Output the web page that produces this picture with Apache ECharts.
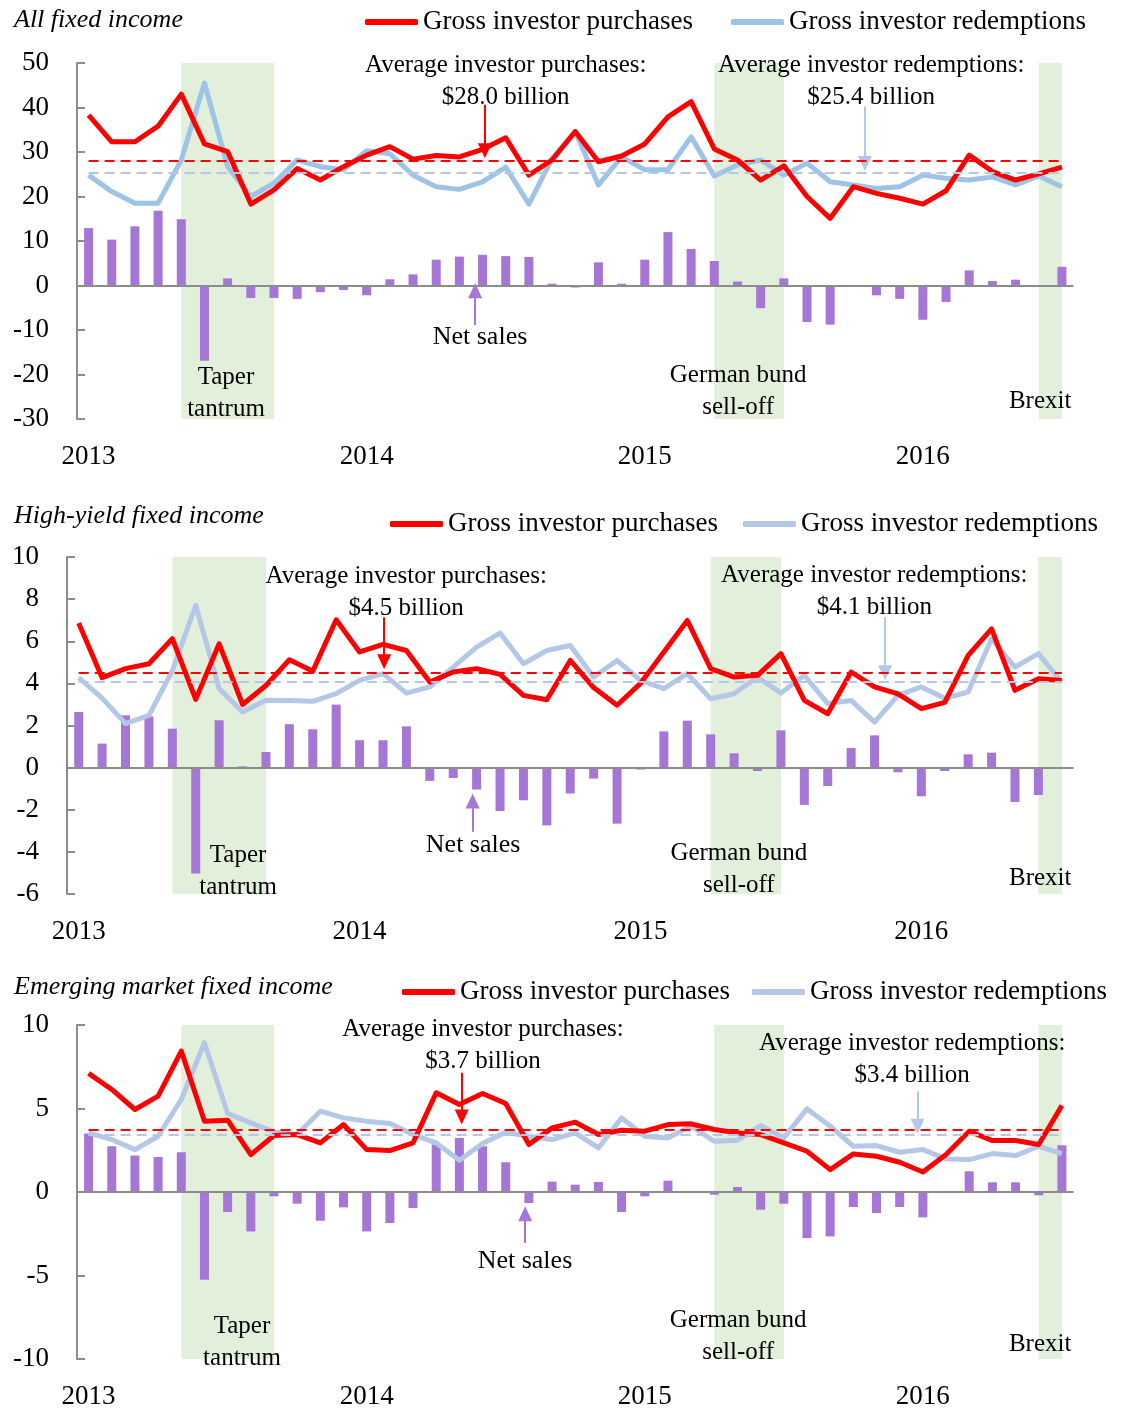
<!DOCTYPE html>
<html>
<head>
<meta charset="utf-8">
<script src="https://cdn.jsdelivr.net/npm/echarts@6/dist/echarts.min.js"></script>
<style>
html, body { margin: 0; padding: 0; background: #fff; }
#flows { width: 1123px; height: 1412px; }
</style>
</head>
<body>
<div id="flows"></div>
<script>
// monthly, Jan 2013 .. Jul 2016 (43 months), $ billion
var years = ['2013', '2014', '2015', '2016']
var panelTitles = ['All fixed income', 'High-yield fixed income', 'Emerging market fixed income']

var allBuy = [38.3, 32.3, 32.3, 35.8, 43.0, 31.8, 30.1, 18.3, 21.5, 26.3,
  23.7, 26.7, 29.3, 31.2, 28.4, 29.2, 28.9, 30.6, 33.2, 24.8,
  28.2, 34.6, 27.8, 29.1, 31.8, 37.9, 41.3, 30.7, 28.2, 23.7,
  26.9, 20.0, 15.1, 22.2, 20.7, 19.6, 18.3, 21.3, 29.3, 25.6,
  23.7, 25.1, 26.6]
var allSell = [24.8, 21.1, 18.5, 18.5, 28.2, 45.5, 26.7, 20.0, 23.0, 28.2,
  26.7, 26.0, 30.3, 29.6, 24.8, 22.2, 21.6, 23.3, 26.6, 18.3,
  28.5, 34.6, 22.6, 28.9, 26.0, 26.0, 33.4, 24.6, 27.1, 28.2,
  24.8, 27.5, 23.3, 22.6, 21.8, 22.2, 24.8, 24.1, 23.7, 24.4,
  22.6, 24.6, 22.2]
var allNet = [12.9, 10.3, 13.3, 16.8, 14.9, -16.9, 1.6, -2.8, -2.8, -3.0,
  -1.5, -1.0, -2.2, 1.4, 2.5, 5.8, 6.5, 6.9, 6.6, 6.4,
  0.4, -0.45, 5.2, 0.4, 5.8, 12.0, 8.2, 5.5, 0.9, -5.1,
  1.6, -8.2, -8.8, -0.3, -2.2, -3.0, -7.7, -3.7, 3.4, 1.0,
  1.3, 0.1, 4.2]

var hyBuy = [6.86, 4.27, 4.70, 4.93, 6.12, 3.24, 5.88, 3.0, 3.9, 5.12,
  4.58, 7.02, 5.49, 5.85, 5.56, 4.06, 4.54, 4.70, 4.43, 3.43,
  3.22, 5.09, 3.8, 2.96, 4.0, 5.49, 6.99, 4.70, 4.30, 4.38,
  5.41, 3.19, 2.56, 4.54, 3.83, 3.5, 2.8, 3.1, 5.33, 6.59,
  3.67, 4.22, 4.14]
var hySell = [4.27, 3.3, 2.09, 2.48, 4.6, 7.7, 3.75, 2.64, 3.2, 3.19,
  3.15, 3.51, 4.14, 4.46, 3.54, 3.83, 4.77, 5.72, 6.39, 4.93,
  5.56, 5.80, 4.30, 5.09, 4.14, 3.75, 4.46, 3.27, 3.51, 4.30,
  3.54, 4.38, 3.04, 3.19, 2.16, 3.43, 3.83, 3.29, 3.59, 6.12,
  4.77, 5.41, 4.06]
var hyNet = [2.64, 1.14, 2.48, 2.43, 1.85, -5.03, 2.25, 0.06, 0.74, 2.06,
  1.82, 2.99, 1.30, 1.30, 1.96, -0.63, -0.49, -1.04, -2.06, -1.55,
  -2.74, -1.23, -0.52, -2.66, -0.09, 1.72, 2.23, 1.58, 0.68, -0.16,
  1.77, -1.77, -0.87, 0.93, 1.53, -0.22, -1.36, -0.16, 0.63, 0.71,
  -1.63, -1.30, 0]

var emBuy = [7.10, 6.14, 4.94, 5.74, 8.44, 4.24, 4.30, 2.24, 3.38, 3.44,
  2.94, 4.04, 2.54, 2.48, 2.94, 5.94, 5.24, 5.90, 5.30, 2.84,
  3.84, 4.18, 3.44, 3.70, 3.64, 4.04, 4.08, 3.74, 3.54, 3.44,
  2.94, 2.44, 1.34, 2.28, 2.14, 1.78, 1.20, 2.24, 3.64, 3.08,
  3.08, 2.84, 5.18]
var emSell = [3.54, 3.14, 2.54, 3.34, 5.54, 8.94, 4.70, 4.14, 3.60, 3.44,
  4.84, 4.44, 4.24, 4.10, 3.44, 2.94, 1.90, 2.90, 3.58, 3.34,
  3.14, 3.54, 2.64, 4.44, 3.34, 3.24, 3.94, 3.04, 3.10, 3.98,
  3.24, 4.98, 3.94, 2.74, 2.78, 2.38, 2.54, 1.98, 1.94, 2.30,
  2.18, 2.74, 2.30]
var emNet = [3.50, 2.74, 2.18, 2.10, 2.38, -5.26, -1.2, -2.36, -0.26, -0.7,
  -1.72, -0.92, -2.36, -1.86, -0.96, 2.84, 3.24, 2.74, 1.78, -0.66,
  0.62, 0.44, 0.6, -1.2, -0.26, 0.68, 0.05, -0.16, 0.3, -1.06,
  -0.7, -2.76, -2.66, -0.9, -1.26, -0.9, -1.52, 0.02, 1.24, 0.58,
  0.58, -0.2, 2.8]

var avgBuy = [28.0, 4.5, 3.7]
var avgSell = [25.4, 4.1, 3.4]

// event windows, as month index (May-Sep 2013, Apr-Jul 2015, Jun-Jul 2016)
var eventBands = [[4, 8], [27, 30], [41, 42]]
var eventNames = ['Taper\ntantrum', 'German bund\nsell-off', 'Brexit']

var serif = "'Liberation Serif', 'DejaVu Serif', serif"
var red = '#ff0000'
var purple = '#a676d6'
var axisGrey = '#8c8c8c'

// layout of each panel; note/arrow positions are in data units [month index, value]
var panels = [
  {
    buy: allBuy, sell: allSell, net: allNet, sellColor: '#9dc3e6', sellDash: '#b4c7e7',
    min: -30, max: 50, step: 10, left: 77, top: 63, height: 356,
    titleTop: 7, legendLeft: 365, legendTop: 7, legendGap: 38,
    buyNote: [18.0, 45.96], sellNote: [33.77, 45.84], netNote: [16.89, -11.57],
    buyArrow: [17.1, 40.6, 30.3], sellArrow: [33.5, 40.2, 27.4], netArrow: [16.68, -8.9, -1.2],
    eventAt: [[5.93, -24.27], [28.03, -23.82], [41.06, -25.96]]
  },
  {
    buy: hyBuy, sell: hySell, net: hyNet, sellColor: '#b4c7e7', sellDash: '#b4c7e7',
    min: -6, max: 10, step: 2, left: 67, top: 557, height: 337,
    titleTop: 503, legendLeft: 390, legendTop: 509, legendGap: 25,
    buyNote: [13.99, 8.32], sellNote: [33.99, 8.36], netNote: [16.85, -3.69],
    buyArrow: [13.05, 7.14, 5.03], sellArrow: [34.45, 7.14, 4.5], netArrow: [16.83, -3.05, -1.58],
    eventAt: [[6.81, -4.94], [28.2, -4.85], [41.08, -5.25]]
  },
  {
    buy: emBuy, sell: emSell, net: emNet, sellColor: '#b4c7e7', sellDash: '#b4c7e7',
    min: -10, max: 10, step: 5, left: 77, top: 1025, height: 334,
    titleTop: 974, legendLeft: 402, legendTop: 977, legendGap: 22,
    buyNote: [17.02, 8.78], sellNote: [35.54, 7.94], netNote: [18.83, -4.12],
    buyArrow: [16.1, 7.14, 4.49], sellArrow: [35.77, 6.04, 3.94], netArrow: [18.84, -3.06, -1.3],
    eventAt: [[6.62, -8.98], [28.03, -8.62], [41.06, -9.1]]
  }
]

function pairs (arr) {
  return arr.map(function (v, i) { return [i, v] })
}

function note (pos, text, size) {
  return {
    coord: pos,
    label: {
      show: true, position: 'inside', formatter: text, color: '#000',
      fontFamily: serif, fontSize: size || 25, lineHeight: 32,
      textBorderWidth: 0
    }
  }
}

function arrow (a, color) {
  return [
    { coord: [a[0], a[1]], symbol: 'none', lineStyle: { color: color, width: 2, type: 'solid' } },
    { coord: [a[0], a[2]], symbol: 'triangle', symbolSize: [14, 15] }
  ]
}

function avgLine (v, n, color) {
  return [
    { coord: [0, v], symbol: 'none', lineStyle: { color: color, width: 2, type: [10, 6] } },
    { coord: [n - 1, v], symbol: 'none' }
  ]
}

var grids = [], xAxes = [], yAxes = [], series = [], titles = [], legends = []

panels.forEach(function (p, k) {
  var n = p.buy.length
  grids.push({ left: p.left, right: 49.5, top: p.top, height: p.height })
  xAxes.push({
    gridIndex: k, type: 'value', min: -0.5, max: n - 0.5,
    axisLine: { show: false }, axisTick: { show: false }, splitLine: { show: false },
    axisLabel: {
      customValues: [0, 12, 24, 36],
      formatter: function (v) { return years[Math.round(v / 12)] },
      fontFamily: serif, fontSize: 27, color: '#000', margin: 24
    }
  })
  yAxes.push({
    gridIndex: k, type: 'value', min: p.min, max: p.max, interval: p.step,
    axisLine: { show: true, onZero: false, lineStyle: { color: axisGrey, width: 2 } },
    axisTick: { show: true, inside: true, length: 8, lineStyle: { color: axisGrey, width: 2 } },
    splitLine: { show: false },
    axisLabel: { fontFamily: serif, fontSize: 27, color: '#000', margin: 28 }
  })
  titles.push({
    text: panelTitles[k], left: 14, top: p.titleTop, padding: 0,
    textStyle: { fontFamily: serif, fontStyle: 'italic', fontWeight: 'normal', fontSize: 26, color: '#000' }
  })
  legends.push({
    left: p.legendLeft, top: p.legendTop, padding: 0, itemGap: p.legendGap,
    icon: 'roundRect', itemWidth: 53, itemHeight: 6,
    data: ['buy' + k, 'sell' + k],
    formatter: function (name) {
      return name.indexOf('buy') === 0 ? 'Gross investor purchases' : 'Gross investor redemptions'
    },
    textStyle: { fontFamily: serif, fontSize: 27, color: '#000', lineHeight: 30 }
  })

  var notes = [
    note(p.buyNote, 'Average investor purchases:\n$' + avgBuy[k].toFixed(1) + ' billion'),
    note(p.sellNote, 'Average investor redemptions:\n$' + avgSell[k].toFixed(1) + ' billion'),
    note(p.netNote, 'Net sales', 26)
  ]
  eventNames.forEach(function (txt, j) { notes.push(note(p.eventAt[j], txt)) })

  series.push({
    name: 'net' + k, type: 'bar', xAxisIndex: k, yAxisIndex: k,
    data: pairs(p.net), barWidth: 9, itemStyle: { color: purple }, z: 2,
    markArea: {
      silent: true, itemStyle: { color: '#e2efda' },
      data: eventBands.map(function (b) { return [{ xAxis: b[0] }, { xAxis: b[1] }] })
    },
    markLine: {
      silent: true, symbol: ['none', 'none'], label: { show: false },
      data: [
        [{ yAxis: 0, x: p.left, symbol: 'none', lineStyle: { color: axisGrey, width: 2, type: 'solid' } },
          { yAxis: 0, x: 1123 - 49.5, symbol: 'none' }],
        arrow(p.netArrow, purple)
      ]
    },
    markPoint: {
      silent: true, symbol: 'circle', symbolSize: 1,
      itemStyle: { color: 'rgba(0,0,0,0)' },
      data: notes
    }
  })
  series.push({
    name: 'sell' + k, type: 'line', xAxisIndex: k, yAxisIndex: k,
    data: pairs(p.sell), symbol: 'none', z: 3,
    itemStyle: { color: p.sellColor },
    lineStyle: { color: p.sellColor, width: 5, join: 'round' },
    markLine: {
      silent: true, symbol: ['none', 'none'], label: { show: false },
      data: [avgLine(avgSell[k], n, p.sellDash), arrow(p.sellArrow, p.sellDash)]
    }
  })
  series.push({
    name: 'buy' + k, type: 'line', xAxisIndex: k, yAxisIndex: k,
    data: pairs(p.buy), symbol: 'none', z: 4,
    itemStyle: { color: red },
    lineStyle: { color: red, width: 5, join: 'round' },
    markLine: {
      silent: true, symbol: ['none', 'none'], label: { show: false },
      data: [avgLine(avgBuy[k], n, red), arrow(p.buyArrow, red)]
    }
  })
})

var chart = echarts.init(document.getElementById('flows'))
chart.setOption({
  animation: false,
  backgroundColor: '#fff',
  title: titles,
  legend: legends,
  grid: grids,
  xAxis: xAxes,
  yAxis: yAxes,
  series: series
})
</script>
</body>
</html>
